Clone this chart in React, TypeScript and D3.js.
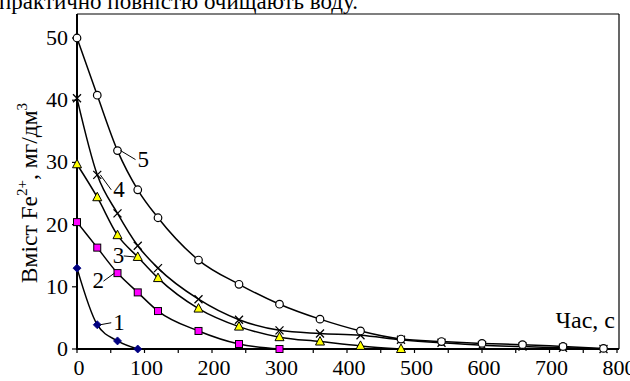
import React from "react";
import * as d3 from "d3";

const times1 = [0, 30, 60, 90];
const series1 = [13.0, 3.9, 1.3, 0];
const times2 = [0, 30, 60, 90, 120, 180, 240, 300];
const series2 = [20.4, 16.3, 12.2, 9.1, 6.1, 2.9, 0.8, 0];
const times3 = [0, 30, 60, 90, 120, 180, 240, 300, 360, 420, 480];
const series3 = [29.7, 24.4, 18.3, 14.8, 11.4, 6.5, 3.6, 1.9, 1.2, 0.5, 0];
const times4 = [0, 30, 60, 90, 120, 180, 240, 300, 360, 420, 480, 540, 600, 660, 720, 780];
const series4 = [40.3, 28.0, 21.8, 16.6, 13.0, 8.0, 4.7, 3.0, 2.5, 2.2, 1.5, 1.0, 0.6, 0.4, 0.2, 0];
const times5 = [0, 30, 60, 90, 120, 180, 240, 300, 360, 420, 480, 540, 600, 660, 720, 780];
const series5 = [50.0, 40.8, 31.9, 25.6, 21.1, 14.3, 10.4, 7.2, 4.8, 2.9, 1.6, 1.2, 0.9, 0.7, 0.4, 0.1];

const xTicks = [0, 100, 200, 300, 400, 500, 600, 700, 800];
const xMinorTicks = [50, 150, 250, 350, 450, 550, 650, 750];
const yTicks = [0, 10, 20, 30, 40, 50];
const seriesLabels = ["1", "2", "3", "4", "5"];

const FONT = "Liberation Serif";

function T(props: any) {
  const { children, ...rest } = props;
  return (
    <text fontFamily={FONT} style={{ fontFamily: `"${FONT}"` }} fill="#000" {...rest}>
      {children}
    </text>
  );
}

export default function App() {
  const x = d3.scaleLinear().domain([0, 800]).range([77, 617]);
  const y = d3.scaleLinear().domain([0, 50]).range([349, 38]);
  const top = 14;
  const right = 619;

  const line = d3
    .line<[number, number]>()
    .x((d) => x(d[0]))
    .y((d) => y(d[1]))
    .curve(d3.curveMonotoneX);

  const pts = (t: number[], v: number[]) => t.map((tt, i) => [tt, v[i]] as [number, number]);
  const all = [
    pts(times1, series1),
    pts(times2, series2),
    pts(times3, series3),
    pts(times4, series4),
    pts(times5, series5),
  ];

  const diamond = (cx: number, cy: number) =>
    `M${cx},${cy - 4}L${cx + 4},${cy}L${cx},${cy + 4}L${cx - 4},${cy}Z`;
  const triangle = (cx: number, cy: number) =>
    `M${cx},${cy - 5}L${cx + 4.5},${cy + 3.5}L${cx - 4.5},${cy + 3.5}Z`;

  const labelDefs: [number, number, number, number][] = [
    [0, 1, 16, 5],
    [1, 2, -25, 15],
    [2, 3, -25, 6],
    [3, 1, 16, 22],
    [4, 2, 20, 16],
  ];

  return (
    <svg width={630} height={381} style={{ position: "absolute", left: 0, top: 0, background: "#fff" }}>
      <rect x={0} y={0} width={630} height={381} fill="#fff" />
      <T x={-1} y={9} fontSize={23}>
        практично повністю очищають воду.
      </T>
      <T x={409} y={392} fontSize={13}>
        2+
      </T>

      <line x1={77} x2={right} y1={top} y2={top} stroke="#000" strokeWidth={1.2} />
      <line x1={right} x2={right} y1={top} y2={349} stroke="#000" strokeWidth={1.2} />
      <line x1={77} x2={77} y1={top} y2={350} stroke="#000" strokeWidth={2} />
      <line x1={76} x2={right} y1={349} y2={349} stroke="#000" strokeWidth={2} />

      {yTicks.map((t) => (
        <g key={"y" + t}>
          <line x1={72} x2={77} y1={y(t)} y2={y(t)} stroke="#000" strokeWidth={1.2} />
          <T x={68} y={y(t) + 7} fontSize={22} textAnchor="end">
            {t}
          </T>
        </g>
      ))}

      {xTicks.concat(xMinorTicks).map((t) => (
        <line key={"xt" + t} x1={x(t)} x2={x(t)} y1={349} y2={353} stroke="#000" strokeWidth={1.2} />
      ))}
      {xTicks.map((t) => (
        <T key={"xl" + t} x={x(t) + 2} y={375} fontSize={22} textAnchor="middle">
          {t}
        </T>
      ))}

      <T x={615} y={328} fontSize={24} textAnchor="end">
        Час, с
      </T>

      <T transform="translate(37,193) rotate(-90)" fontSize={23.5} textAnchor="middle">
        Вміст Fe
        <tspan fontSize={15} dy={-10}>2+</tspan>
        <tspan dy={10}>, мг/дм</tspan>
        <tspan fontSize={15} dy={-10}>3</tspan>
      </T>

      {all.map((d, i) => (
        <path key={"l" + i} d={line(d) || ""} fill="none" stroke="#000" strokeWidth={1.5} />
      ))}

      {all[0].map((d, i) => (
        <path key={"m1" + i} d={diamond(x(d[0]), y(d[1]))} fill="#000080" stroke="#000080" strokeWidth={0.8} />
      ))}
      {all[1].map((d, i) => (
        <rect
          key={"m2" + i}
          x={x(d[0]) - 3.5}
          y={y(d[1]) - 3.5}
          width={7}
          height={7}
          fill="#FF00FF"
          stroke="#000"
          strokeWidth={1}
        />
      ))}
      {all[2].map((d, i) => (
        <path key={"m3" + i} d={triangle(x(d[0]), y(d[1]))} fill="#FFFF00" stroke="#000" strokeWidth={1} />
      ))}
      {all[3].map((d, i) => {
        const cx = x(d[0]);
        const cy = y(d[1]);
        return (
          <path
            key={"m4" + i}
            d={`M${cx - 4},${cy - 4}L${cx + 4},${cy + 4}M${cx - 4},${cy + 4}L${cx + 4},${cy - 4}`}
            stroke="#000"
            strokeWidth={1.3}
            fill="none"
          />
        );
      })}
      {all[4].map((d, i) => (
        <circle key={"m5" + i} cx={x(d[0])} cy={y(d[1])} r={3.8} fill="#fff" stroke="#000" strokeWidth={1.2} />
      ))}

      {labelDefs.map(([si, pi, dx, dy], k) => {
        const p = all[si][pi];
        const px = x(p[0]);
        const py = y(p[1]);
        const lx = px + dx;
        const ly = py + dy;
        const left = dx < 0;
        const ex = left ? lx + 11 : lx - 2;
        const ey = ly - 7;
        return (
          <g key={"lab" + k}>
            <line x1={left ? px - 3 : px + 3} y1={py} x2={ex} y2={ey} stroke="#000" strokeWidth={1} />
            <T x={lx} y={ly} fontSize={23}>
              {seriesLabels[k]}
            </T>
          </g>
        );
      })}
    </svg>
  );
}
